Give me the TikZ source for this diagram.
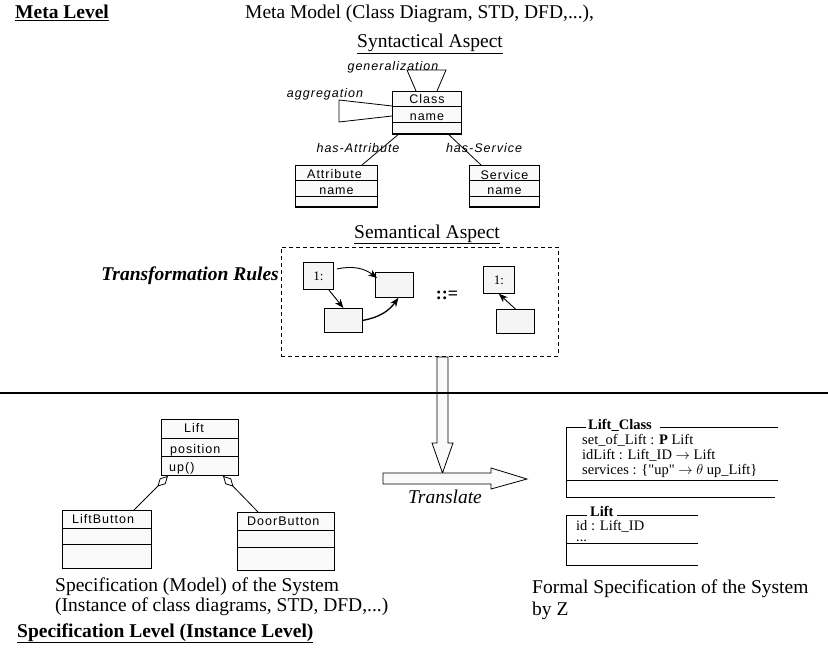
\documentclass[tikz,border=0pt]{standalone}
\usepackage{fontspec}
\setmainfont{Liberation Serif}
\newfontfamily\plainserif[Ligatures=TeXOff]{Liberation Serif}
\newfontfamily\umlfont[LetterSpace=8]{Liberation Sans}
\usetikzlibrary{arrows.meta,calc}

\tikzset{
  bodytext/.style={inner sep=0pt, anchor=base west, font=\fontsize{19.5}{23}\selectfont},
  umlbox/.style={draw, line width=0.9pt, fill=black!2, inner sep=0pt, anchor=north west},
  umltext/.style={inner sep=0pt, anchor=base, font=\umlfont\fontsize{12.5}{14}\selectfont},
  umllabel/.style={inner sep=0pt, anchor=base, font=\umlfont\itshape\fontsize{12.5}{14}\selectfont},
  semibox/.style={draw, line width=0.8pt, fill=black!4, inner sep=0pt, anchor=north west},
  semiarrow/.style={line width=0.9pt, -{Stealth[length=9pt,width=7pt]}},
  aggr/.style={line width=0.8pt, -{Diamond[open,length=15pt,width=8pt]}},
  ztext/.style={inner sep=0pt, anchor=base west, font=\fontsize{14.5}{16}\selectfont},
  zline/.style={line width=0.9pt},
  bigarrow/.style={draw, line width=0.8pt, fill=black!2},
}

\begin{document}
\begin{tikzpicture}[x=1pt, y=-1pt]
\useasboundingbox (0,0) rectangle (828,658);

% ---------- meta level header ----------
\node[bodytext, font=\bfseries\fontsize{19.5}{23}\selectfont] (metalevel) at (15,19) {\underline{Meta Level}};
\node[bodytext] (metamodel) at (245,19) {Meta Model (Class Diagram, STD, DFD,...),};

% ---------- syntactical aspect ----------
\node[bodytext, anchor=base] (syntitle) at (430,48) {\underline{Syntactical Aspect}};

\node[umlbox, minimum width=69pt, minimum height=42pt] (cls) at (392,91) {};
\draw[line width=0.9pt] ($(cls.north west)+(0,15)$) -- ($(cls.north east)+(0,15)$);
\draw[line width=0.9pt] ($(cls.north west)+(0,31)$) -- ($(cls.north east)+(0,31)$);
\draw[line width=1.6pt] (cls.south west) -- (cls.south east);
\node[umltext] at ($(cls.north)+(0,13)$) {Class};
\node[umltext] at ($(cls.north)+(0,29.5)$) {name};

\node[umlbox, minimum width=82pt, minimum height=41pt] (attr) at (295,165) {};
\draw[line width=0.9pt] ($(attr.north west)+(0,15)$) -- ($(attr.north east)+(0,15)$);
\draw[line width=0.9pt] ($(attr.north west)+(0,31)$) -- ($(attr.north east)+(0,31)$);
\draw[line width=1.6pt] (attr.south west) -- (attr.south east);
\node[umltext] at ($(attr.north)+(-2,13.5)$) {Attribute};
\node[umltext] at ($(attr.north)+(0,29.5)$) {name};

\node[umlbox, minimum width=70pt, minimum height=41pt] (serv) at (469,165) {};
\draw[line width=0.9pt] ($(serv.north west)+(0,15)$) -- ($(serv.north east)+(0,15)$);
\draw[line width=0.9pt] ($(serv.north west)+(0,31)$) -- ($(serv.north east)+(0,31)$);
\draw[line width=1.6pt] (serv.south west) -- (serv.south east);
\node[umltext] at ($(serv.north)+(0,14)$) {Service};
\node[umltext] at ($(serv.north)+(0,29.5)$) {name};

% generalization (self association drawn as an open triangle)
\draw[line width=0.8pt] ($(cls.north west)+(24,0)$) -- ($(cls.north west)+(15,-21)$)
  -- ($(cls.north west)+(54,-21)$) -- ($(cls.north west)+(45,0)$);
\node[umllabel] (genlabel) at (393,71) {generalization};

% aggregation (self association on the left side)
\draw[line width=0.8pt] ($(cls.north west)+(0,15)$) -- ($(cls.north west)+(-53,9)$)
  -- ($(cls.north west)+(-53,31)$) -- ($(cls.north west)+(0,25)$);
\node[umllabel] (agglabel) at (325,98) {aggregation};

% has-Attribute / has-Service
\draw[line width=0.8pt] ($(cls.south west)+(7,0)$) -- ($(attr.north west)+(67,0)$);
\draw[line width=0.8pt] ($(cls.south west)+(56,0)$) -- ($(serv.north west)+(12,0)$);
\node[umllabel] (hasattr) at (358,153) {has-Attribute};
\node[umllabel] (hasserv) at (484,153) {has-Service};

% ---------- semantical aspect ----------
\node[bodytext, anchor=base] (semtitle) at (427,238) {\underline{Semantical Aspect}};
\node[draw, dash pattern=on 4pt off 3pt, line width=0.8pt, minimum width=277pt, minimum height=109pt,
      inner sep=0pt, anchor=north west] (rulebox) at (281,247) {};
\node[bodytext, anchor=base east, font=\bfseries\itshape\fontsize{19.5}{23}\selectfont] (rules) at (279,280) {Transformation Rules};

\node[semibox, minimum width=30pt, minimum height=27pt] (ra) at (303,262) {};
\node[inner sep=0pt, font=\fontsize{13}{14}\selectfont] at (ra.center) {1:};
\node[semibox, minimum width=38pt, minimum height=25pt] (rb) at (375,272) {};
\node[semibox, minimum width=38pt, minimum height=24pt] (rc) at (324,308) {};
\node[inner sep=0pt, font=\bfseries\fontsize{18}{20}\selectfont] (defeq) at (447,295) {::=};
\node[semibox, minimum width=31pt, minimum height=27pt] (rd) at (483,266) {};
\node[inner sep=0pt, font=\fontsize{13}{14}\selectfont] at (rd.center) {1:};
\node[semibox, minimum width=38pt, minimum height=24pt] (re) at (496,309) {};

\draw[semiarrow] ($(ra.north east)+(3,7)$) to[bend left=25] ($(rb.north west)+(2,6)$);
\draw[semiarrow] ($(ra.south east)+(-5,0)$) -- (rc.north);
\draw[semiarrow, line width=1.3pt] (rc.east) to[bend right=22] ($(rb.south)+(4,0)$);
\draw[semiarrow] (re.north) -- (rd.south);

% ---------- translation arrows ----------
\draw[bigarrow] (437,357) -- (448,357) -- (448,443) -- (453,443) -- (442.5,473)
  -- (432,443) -- (437,443) -- cycle;
\draw[bigarrow] (383,473) -- (491,473) -- (491,468) -- (527,479) -- (491,489)
  -- (491,484) -- (383,484) -- cycle;
\node[bodytext, anchor=base, font=\itshape\fontsize{19.5}{23}\selectfont] (translate) at (445,503) {Translate};

% level separator
\draw[line width=1.5pt] (0,393) -- (828,393);

% ---------- specification level: class diagram ----------
\node[umlbox, minimum width=77pt, minimum height=56pt] (lift) at (161,419) {};
\draw[line width=0.9pt] ($(lift.north west)+(0,19)$) -- ($(lift.north east)+(0,19)$);
\draw[line width=0.9pt] ($(lift.north west)+(0,37)$) -- ($(lift.north east)+(0,37)$);
\node[umltext] at ($(lift.north)+(-6,13)$) {Lift};
\node[umltext, anchor=base west] at ($(lift.north west)+(9,34.5)$) {position};
\node[umltext, anchor=base west] at ($(lift.north west)+(8,52)$) {up()};

\node[umlbox, minimum width=89pt, minimum height=58pt] (liftbtn) at (62,510) {};
\draw[line width=0.9pt] ($(liftbtn.north west)+(0,18)$) -- ($(liftbtn.north east)+(0,18)$);
\draw[line width=0.9pt] ($(liftbtn.north west)+(0,34)$) -- ($(liftbtn.north east)+(0,34)$);
\node[umltext, anchor=base west] at ($(liftbtn.north west)+(10,13)$) {LiftButton};

\node[umlbox, minimum width=97pt, minimum height=58pt] (doorbtn) at (237,512) {};
\draw[line width=0.9pt] ($(doorbtn.north west)+(0,18)$) -- ($(doorbtn.north east)+(0,18)$);
\draw[line width=0.9pt] ($(doorbtn.north west)+(0,35)$) -- ($(doorbtn.north east)+(0,35)$);
\node[umltext, anchor=base west] at ($(doorbtn.north west)+(10,13)$) {DoorButton};

\draw[aggr] ($(liftbtn.north west)+(72,0)$) -- ($(lift.south west)+(7,0)$);
\draw[aggr] ($(doorbtn.north west)+(21,0)$) -- ($(lift.south west)+(62,0)$);

\node[bodytext] (spec1) at (55,591) {Specification (Model) of the System};
\node[bodytext] (spec2) at (55,611) {(Instance of class diagrams, STD, DFD,...)};
\node[bodytext, font=\bfseries\fontsize{19.5}{23}\selectfont] (speclevel) at (17,637) {\underline{Specification Level (Instance Level)}};

% ---------- specification level: Z schemas ----------
\node[ztext, font=\bfseries\fontsize{14.5}{16}\selectfont] (lcname) at (588,429) {Lift\_Class};
\draw[zline] (566,497) -- (566,427) -- (586,427);
\draw[zline] (660,427) -- (778,427);
\node[ztext, anchor=north west, align=left, font=\fontsize{14.5}{14.8}\selectfont] (lcdecl) at (582,434)
  {set\_of\_Lift : \textbf{P} Lift\\
   idLift : Lift\_ID $\rightarrow$ Lift\\
   services : \{{\plainserif "}up{\plainserif "} $\rightarrow$ $\theta$ up\_Lift\}};
\draw[zline] (566,480) -- (778,480);
\draw[zline] (566,497) -- (775,497);

\node[ztext, font=\bfseries\fontsize{14.5}{16}\selectfont] (lname) at (590,516.5) {Lift};
\draw[zline] (566,565) -- (566,515) -- (587,515);
\draw[zline] (617,515) -- (698,515);
\node[ztext, anchor=north west, align=left, font=\fontsize{14.5}{11}\selectfont] (ldecl) at (576,520.5)
  {id : Lift\_ID\\ ...};
\draw[zline] (566,543) -- (698,543);
\draw[zline] (566,565) -- (698,565);

\node[bodytext] (formal1) at (532,593) {Formal Specification of the System};
\node[bodytext] (formal2) at (532,615) {by Z};
\end{tikzpicture}
\end{document}
